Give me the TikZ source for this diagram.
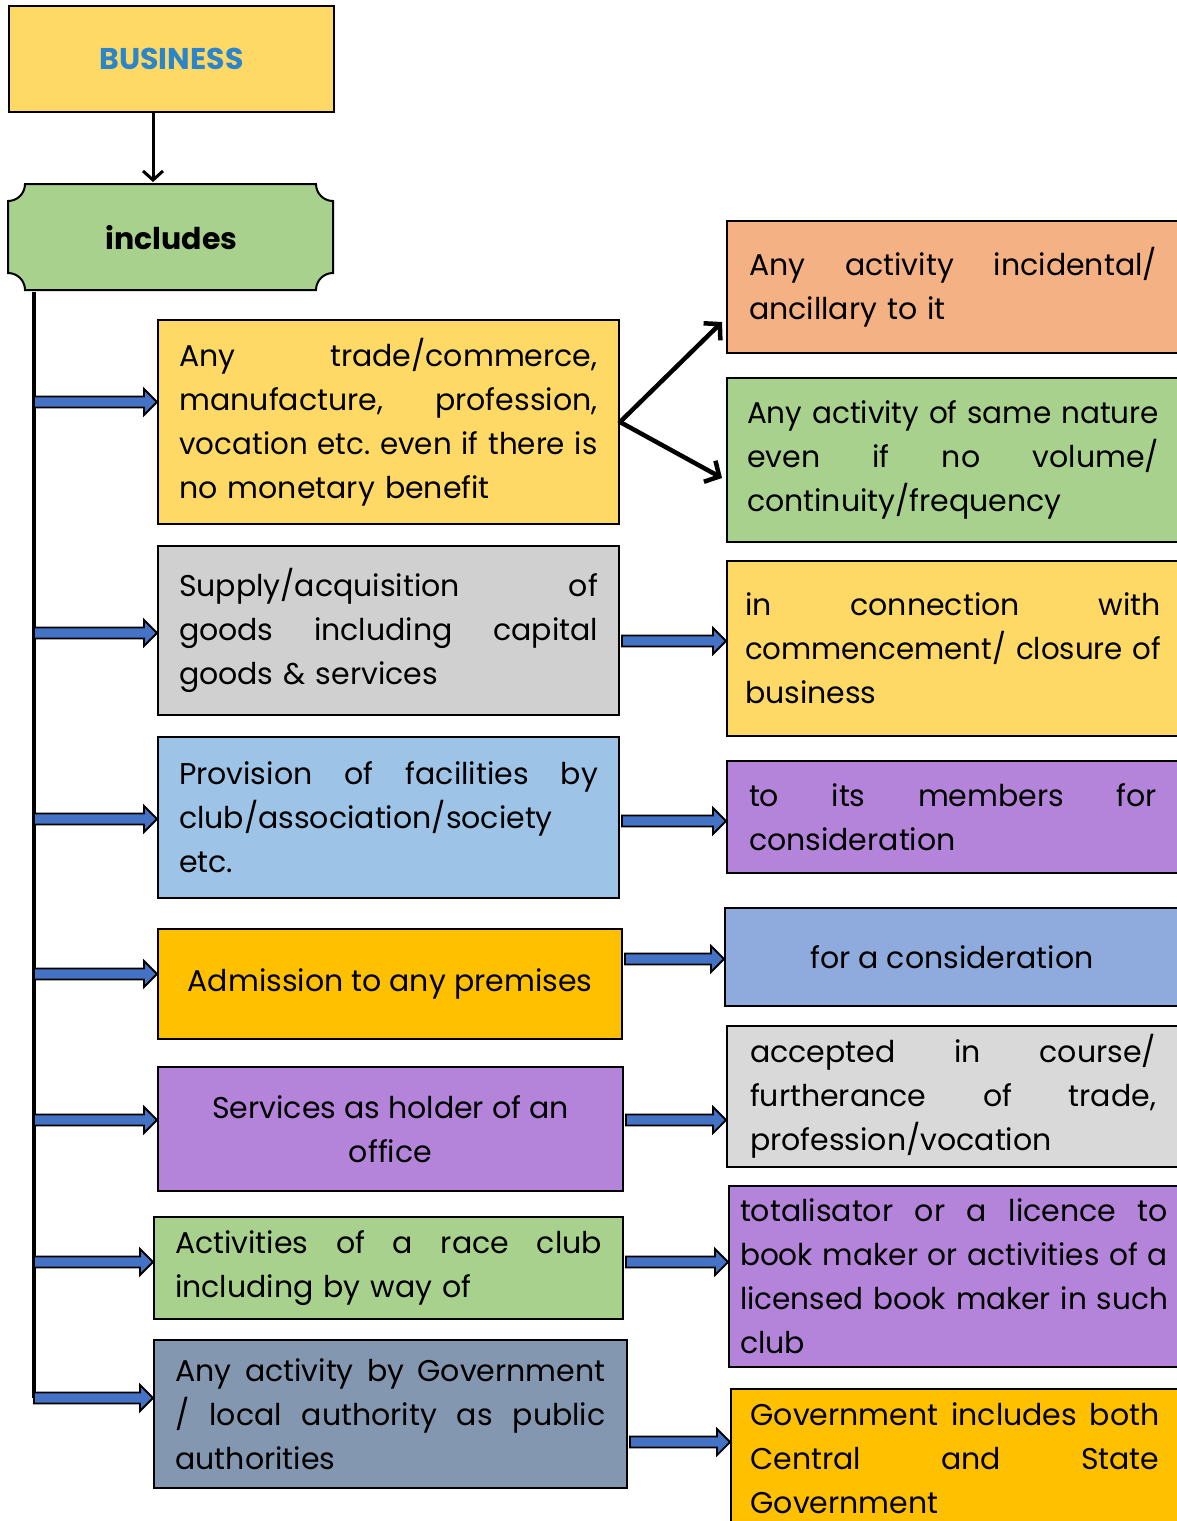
\documentclass[tikz,border=0pt]{standalone}
\usepackage{fontspec}
\setmainfont{Poppins}
\usetikzlibrary{arrows.meta,calc}
\definecolor{yel}{HTML}{FFD966}
\definecolor{busblue}{HTML}{2C85C8}
\definecolor{grn}{HTML}{A9D18E}
\definecolor{gry}{HTML}{D0D0D0}
\definecolor{lgry}{HTML}{D9D9D9}
\definecolor{lblue}{HTML}{9DC3E6}
\definecolor{orng}{HTML}{FFC000}
\definecolor{purp}{HTML}{B384DA}
\definecolor{slate}{HTML}{8497B0}
\definecolor{peach}{HTML}{F4B183}
\definecolor{mblue}{HTML}{8FAADC}
\definecolor{arrblue}{HTML}{4472C4}
\newsavebox\jlbox
\newdimen\jlw
\newcommand\jl[1]{\sbox\jlbox{#1}\jlw=\wd\jlbox
  \ifdim\jlw>\hsize\pgfmathsetmacro\jlf{\hsize/\jlw}\scalebox{\jlf}[1]{#1}%
  \else{\spaceskip=\fontdimen2\font plus 1fill\relax\makebox[\hsize][s]{#1}}\fi}
\newcommand\barr[2]{\draw[bluearrow] let \p1=(#1), \p2=(#2) in (\x1,\y1+5.5pt) -- (\x2-13pt,\y1+5.5pt) -- (\x2-13pt,\y1+13pt) -- (\x2,\y1) -- (\x2-13pt,\y1-13pt) -- (\x2-13pt,\y1-5.5pt) -- (\x1,\y1-5.5pt) -- cycle;}
\frenchspacing
\begin{document}
\begin{tikzpicture}[x=1pt,y=1pt,
  box/.style={draw=black, line width=2pt, inner sep=0pt, anchor=north west,
    font=\fontsize{30}{44}\selectfont, align=left},
  cbox/.style={box, align=center},
  bluearrow/.style={draw=black, fill=arrblue, line width=1.8pt, line join=miter},
  blk/.style={draw=black, line width=4.5pt, line cap=round, -{Straight Barb[length=11pt,width=24pt,line width=4.5pt]}},
  blkthin/.style={draw=black, line width=3pt, -{Straight Barb[length=9pt,width=20pt]}}]
\useasboundingbox[fill=white] (0,0) rectangle (1176,-1521);

% header
\node[cbox, fill=yel, minimum width=325, minimum height=106, text=busblue,
  font=\fontsize{30}{30}\selectfont\bfseries] (bus) at (8,-5) {BUSINESS};
\fill[grn] (25,-184) -- (316,-184) arc[start angle=180,end angle=270,radius=17]
  -- (333,-273) arc[start angle=90,end angle=180,radius=17]
  -- (25,-290) arc[start angle=0,end angle=90,radius=17]
  -- (8,-201) arc[start angle=270,end angle=360,radius=17] -- cycle;
\draw[line width=2pt] (25,-184) -- (316,-184) arc[start angle=180,end angle=270,radius=17]
  -- (333,-273) arc[start angle=90,end angle=180,radius=17]
  -- (25,-290) arc[start angle=0,end angle=90,radius=17]
  -- (8,-201) arc[start angle=270,end angle=360,radius=17] -- cycle;
\node[cbox, draw=none, minimum width=325, minimum height=106,
  font=\fontsize{30}{30}\selectfont\bfseries] (inc) at (8,-184) {includes};
\coordinate (ax) at (153,0);
\draw[blkthin] (bus.south -| ax) -- ($(inc.north -| ax)+(0,2)$);

% left boxes
\node[box, fill=yel, minimum width=461, minimum height=204, text width=418] (b1) at (157,-319)
 {\jl{Any trade/commerce,}\\\jl{manufacture, profession,}\\\jl{vocation etc. even if there is}\\no monetary benefit};
\node[box, fill=gry, minimum width=461, minimum height=169, text width=419] (b2) at (157,-545)
 {\jl{Supply/acquisition of}\\\jl{goods including capital}\\goods \& services};
\node[box, fill=lblue, minimum width=461, minimum height=161, text width=419] (b3) at (157,-736)
 {\jl{Provision of facilities by}\\club/association/society\\etc.};
\node[cbox, fill=orng, minimum width=464, minimum height=110] (b4) at (157,-928)
 {Admission to any premises};
\node[cbox, fill=purp, minimum width=465, minimum height=124] (b5) at (157,-1066)
 {Services as holder of an\\office};
\node[box, fill=grn, minimum width=469, minimum height=102, text width=427] (b6) at (153,-1216)
 {\jl{Activities of a race club}\\including by way of};
\node[box, fill=slate, minimum width=473, minimum height=148, text width=430] (b7) at (153,-1339)
 {\jl{Any activity by Government}\\\jl{/ local authority as public}\\authorities};

% right boxes
\node[box, fill=peach, minimum width=452, minimum height=132, text width=408] (r1) at (726,-220)
 {\jl{Any activity incidental/}\\ancillary to it};
\node[box, fill=grn, minimum width=452, minimum height=164, text width=412] (r2) at (726,-377)
 {\jl{Any activity of same nature}\\\jl{even if no volume/}\\continuity/frequency};
\node[box, fill=yel, minimum width=452, minimum height=175, text width=416] (r3) at (726,-560)
 {\jl{in connection with}\\\jl{commencement/ closure of}\\business};
\node[box, fill=purp, minimum width=452, minimum height=112, text width=408] (r4) at (726,-760)
 {\jl{to its members for}\\consideration};
\node[cbox, fill=mblue, minimum width=454, minimum height=98] (r5) at (724,-907)
 {for a consideration};
\node[box, fill=lgry, minimum width=452, minimum height=141, text width=406] (r6) at (726,-1025)
 {\jl{accepted in course/}\\\jl{furtherance of trade,}\\profession/vocation};
\node[box, fill=purp, minimum width=450, minimum height=181, text width=428] (r7) at (728,-1185)
 {\jl{totalisator or a licence to}\\\jl{book maker or activities of a}\\\jl{licensed book maker in such}\\club};
\node[box, fill=orng, minimum width=448, minimum height=138, text width=409] (r8) at (730,-1388)
 {\jl{Government includes both}\\\jl{Central and State}\\Government};

% rail
\coordinate (rx) at (34,0);
\coordinate (l1) at (34,-402);
\coordinate (l2) at (34,-633);
\coordinate (l3) at (34,-819);
\coordinate (l4) at (34,-974);
\coordinate (l5) at (34,-1120);
\coordinate (l6) at (34,-1262);
\coordinate (l7) at (34,-1398);
\draw[line width=4pt] (inc.south -| rx) -- (l7);
\barr{l1}{b1.west |- l1}
\barr{l2}{b2.west |- l2}
\barr{l3}{b3.west |- l3}
\barr{l4}{b4.west |- l4}
\barr{l5}{b5.west |- l5}
\barr{l6}{b6.west |- l6}
\barr{l7}{b7.west |- l7}

% right connectors
\coordinate (t1) at (722,-322);
\coordinate (t2) at (722,-478);
\draw[blk] (b1.east) -- (t1);
\draw[blk] (b1.east) -- (t2);
\coordinate (y2) at (0,-641);
\coordinate (y3) at (0,-821);
\coordinate (y4) at (0,-959);
\coordinate (y5) at (0,-1120);
\coordinate (y6) at (0,-1262);
\coordinate (y7) at (0,-1442);
\barr{$(b2.east |- y2)+(2,0)$}{r2.west |- y2}
\barr{$(b3.east |- y3)+(2,0)$}{r3.west |- y3}
\barr{$(b4.east |- y4)+(2,0)$}{r5.west |- y4}
\barr{$(b5.east |- y5)+(2,0)$}{r6.west |- y5}
\barr{$(b6.east |- y6)+(2,0)$}{r7.west |- y6}
\barr{$(b7.east |- y7)+(2,0)$}{r8.west |- y7}
\end{tikzpicture}
\end{document}
